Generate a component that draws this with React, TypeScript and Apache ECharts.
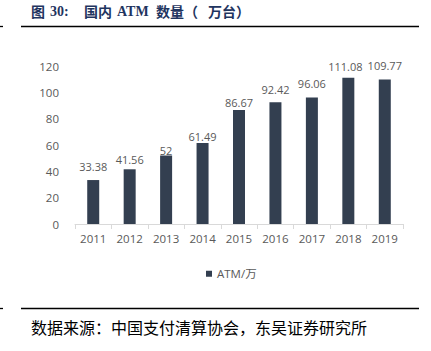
import React, { useEffect, useRef } from "react";
import * as echarts from "echarts";

const categories = ["2011", "2012", "2013", "2014", "2015", "2016", "2017", "2018", "2019"];
const atmValues = [33.38, 41.56, 52, 61.49, 86.67, 92.42, 96.06, 111.08, 109.77];
const seriesName = "ATM/万";
const yMin = 0;
const yMax = 120;
const yInterval = 20;
const titleParts = ["图", "30:", "国内", "ATM", "数量（", "万台）"];
const sourceText = "数据来源：中国支付清算协会，东吴证券研究所";

// styling: distance of each value label above its bar, and horizontal nudge
const labelLift = [8, 4, 0, 1, 2, 7, 9, 6, 8];
const labelShift = [0, 0, 0, 0, 0, 0, 0, -3, 0];
// styling: x position of each title piece
const titleX = [31, 50, 84, 117, 156, 208];

export default function App() {
  const ref = useRef<HTMLDivElement>(null);
  useEffect(() => {
    if (!ref.current) return;
    const chart = echarts.init(ref.current, undefined, { renderer: "svg" });
    const font = "'Open Sans', 'Noto Sans CJK SC', sans-serif";
    const titleGraphics = titleParts.map((t, i) => {
      const latin = /^[A-Za-z0-9:]+$/.test(t);
      return {
        type: "text",
        x: titleX[i],
        y: 11,
        style: {
          text: t,
          font: latin
            ? "bold 14px 'Liberation Serif', serif"
            : "bold 14px 'Noto Sans CJK SC', sans-serif",
          fill: "#1f3560",
          textAlign: "left",
          textVerticalAlign: "middle",
        },
      };
    });
    chart.setOption({
      animation: false,
      backgroundColor: "#ffffff",
      textStyle: { fontFamily: font },
      grid: { left: 75, right: 28, top: 66, bottom: 127, containLabel: false },
      legend: {
        data: [seriesName],
        left: 201,
        top: 263,
        icon: "rect",
        itemWidth: 6,
        itemHeight: 6,
        textStyle: { color: "#595959", fontSize: 11.5, fontFamily: font },
      },
      xAxis: {
        type: "category",
        data: categories,
        axisLine: { lineStyle: { color: "#d9d9d9" } },
        axisTick: { show: true, lineStyle: { color: "#d9d9d9" }, length: 5 },
        axisLabel: { color: "#595959", fontSize: 11.5, margin: 9 },
      },
      yAxis: {
        type: "value",
        min: yMin,
        max: yMax,
        interval: yInterval,
        axisLine: { show: false },
        axisTick: { show: false },
        splitLine: { show: false },
        axisLabel: { color: "#595959", fontSize: 11.5, margin: 16 },
      },
      series: [
        {
          name: seriesName,
          type: "bar",
          barWidth: 12,
          itemStyle: { color: "#333f50" },
          data: atmValues.map((v, i) => ({
            value: v,
            label: { distance: labelLift[i], offset: [labelShift[i], 0] },
          })),
          label: {
            show: true,
            position: "top",
            color: "#595959",
            fontSize: 11,
          },
        },
      ],
      graphic: [
        ...titleGraphics,
        { type: "line", shape: { x1: 21, y1: 26.5, x2: 419, y2: 26.5 }, style: { stroke: "#000", lineWidth: 1.3 } },
        { type: "line", shape: { x1: 0, y1: 26.5, x2: 3, y2: 26.5 }, style: { stroke: "#000", lineWidth: 1.3 } },
        { type: "line", shape: { x1: 21, y1: 308.5, x2: 419, y2: 308.5 }, style: { stroke: "#000", lineWidth: 1.3 } },
        { type: "line", shape: { x1: 0, y1: 308.5, x2: 3, y2: 308.5 }, style: { stroke: "#000", lineWidth: 1.3 } },
        {
          type: "text",
          x: 31,
          y: 327,
          style: {
            text: sourceText,
            font: "16px 'Noto Sans CJK SC', serif",
            fill: "#000",
            textAlign: "left",
            textVerticalAlign: "middle",
          },
        },
      ],
    });
    return () => chart.dispose();
  }, []);
  return (
    <div
      ref={ref}
      style={{ position: "fixed", left: 0, top: 0, width: 431, height: 351 }}
    />
  );
}
